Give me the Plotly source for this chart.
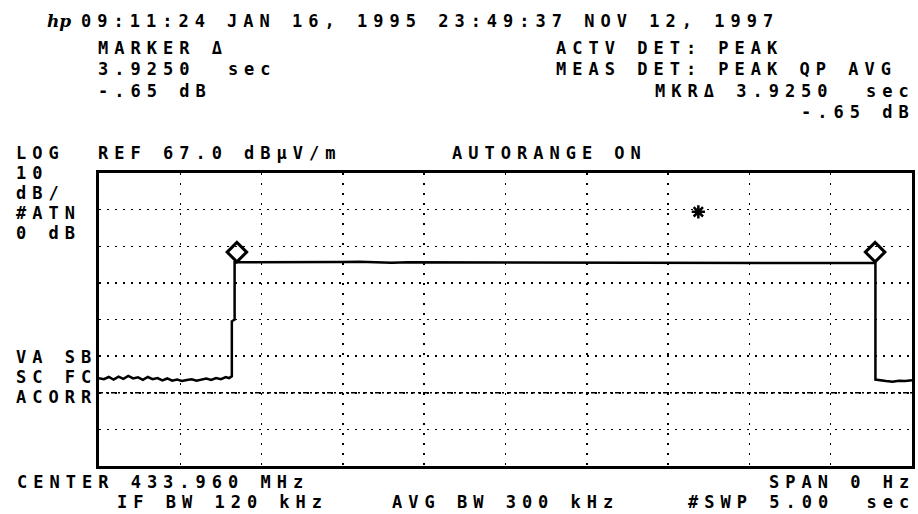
import plotly.graph_objects as go

# ---------------- data ----------------
sweep_time_s = 5.0
ref_level = 67.0
db_per_div = 10
n_vdiv = 8
n_hdiv = 10
display_line_level = 7.0

trace_time = [
    0.00, 0.03, 0.06, 0.09, 0.12, 0.15, 0.18, 0.21, 0.24, 0.27,
    0.30, 0.33, 0.36, 0.39, 0.42, 0.45, 0.48, 0.51, 0.54, 0.57,
    0.60, 0.63, 0.66, 0.69, 0.72, 0.75, 0.78, 0.80, 0.817,
    0.817, 0.834, 0.834,
    0.90, 1.00, 1.10, 1.20, 1.30, 1.40, 1.50, 1.60, 1.70, 1.80,
    1.90, 2.00, 2.10, 2.20, 2.30, 2.40, 2.50, 2.60, 2.70, 2.80,
    2.90, 3.00, 3.10, 3.20, 3.30, 3.40, 3.50, 3.60, 3.70, 3.80,
    3.90, 4.00, 4.10, 4.20, 4.30, 4.40, 4.50, 4.60, 4.70, 4.775,
    4.775, 4.80, 4.84, 4.88, 4.92, 4.96, 5.00,
]
trace_level = [
    11.0, 10.7, 11.3, 10.6, 11.4, 10.8, 11.6, 10.9, 11.2, 10.5,
    11.3, 10.7, 11.0, 10.4, 10.9, 10.3, 10.6, 10.2, 10.5, 10.7,
    10.3, 10.6, 10.9, 10.5, 11.0, 10.7, 11.3, 11.0, 11.5,
    26.5, 27.0, 42.6,
    42.6, 42.6, 42.7, 42.5, 42.6, 42.6, 42.7, 42.8, 42.6, 42.5,
    42.6, 42.6, 42.5, 42.4, 42.5, 42.6, 42.4, 42.5, 42.6, 42.4,
    42.5, 42.5, 42.6, 42.5, 42.6, 42.5, 42.5, 42.6, 42.5, 42.4,
    42.4, 42.4, 42.4, 42.5, 42.4, 42.4, 42.4, 42.4, 42.4, 42.4,
    10.6, 10.4, 10.2, 10.0, 10.3, 10.2, 10.4,
]

marker_time = [0.848, 4.773]
marker_level = [45.4, 45.4]
star_time = [3.686]
star_level = [56.4]

header_line = "09:11:24 JAN 16, 1995 23:49:37 NOV 12, 1997"
marker_lines = ["MARKER Δ", "3.9250  sec", "-.65 dB"]
det_lines = ["ACTV DET: PEAK", "MEAS DET: PEAK QP AVG"]
mkr_lines = ["MKRΔ 3.9250  sec", "-.65 dB"]
ref_text = f"REF {ref_level:.1f} dBµV/m"
autorange_text = "AUTORANGE ON"
left_top_labels = ["LOG", "10", "dB/", "#ATN", "0 dB"]
left_mid_labels = ["VA SB", "SC FC", "ACORR"]
center_text = "CENTER 433.960 MHz"
ifbw_text = "IF BW 120 kHz"
avgbw_text = "AVG BW 300 kHz"
span_text = "SPAN 0 Hz"
swp_text = "#SWP 5.00  sec"

# ---------------- layout geometry (window pixels) ----------------
W, H = 918, 514
L, R, T, B = 98.5, 915.0, 172.5, 466.0

fig = go.Figure()

fig.add_trace(go.Scatter(
    x=[0, sweep_time_s], y=[display_line_level, display_line_level],
    mode="lines", line=dict(color="black", width=1.6, dash="4px,3px,2px,3px"),
    hoverinfo="skip", showlegend=False))

fig.add_trace(go.Scatter(
    x=trace_time, y=trace_level, mode="lines",
    line=dict(color="black", width=2.5), showlegend=False))

fig.add_trace(go.Scatter(
    x=marker_time, y=marker_level, mode="markers",
    marker=dict(symbol="diamond-open", size=15, color="black",
                line=dict(color="black", width=3)),
    showlegend=False))

fig.add_trace(go.Scatter(
    x=star_time, y=star_level, mode="markers",
    marker=dict(symbol="asterisk-open", size=11, color="black",
                line=dict(color="black", width=2.5)),
    showlegend=False))

FONT = dict(family="DejaVu Sans Mono", size=17, color="black", weight="bold")
TRACK = 6.0   # extra letter spacing to match the analyzer's wide character pitch


def spaced(s):
    return f'<span style="letter-spacing:{TRACK}px">{s[:-1]}</span>{s[-1]}'


def add_text(s, px, py, anchor="left"):
    fig.add_annotation(
        text=spaced(s), x=(px - L) / (R - L), y=(B - py) / (B - T),
        xref="paper", yref="paper", xanchor=anchor, yanchor="middle",
        align=anchor, showarrow=False, font=FONT, borderpad=0)


# hp logo
fig.add_annotation(text="<b><i>hp</i></b>", x=(58 - L) / (R - L), y=(B - 20) / (B - T),
                   xref="paper", yref="paper", xanchor="center", yanchor="middle",
                   showarrow=False,
                   font=dict(family="DejaVu Serif", size=17, color="black"))

add_text(header_line, 79, 20)
for i, s in enumerate(marker_lines):
    add_text(s, 96, 47 + i * 21.5)
for i, s in enumerate(det_lines):
    add_text(s, 556, 47 + i * 21.5)
for i, s in enumerate(mkr_lines):
    add_text(s, 913, 90 + i * 21.5, anchor="right")
add_text(left_top_labels[0], 14, 152)
add_text(ref_text, 96, 152)
add_text(autorange_text, 452, 152)
for i, s in enumerate(left_top_labels[1:]):
    add_text(s, 14, 173 + i * 20)
for i, s in enumerate(left_mid_labels):
    add_text(s, 14, 357 + i * 20)
add_text(center_text, 15, 482)
add_text(ifbw_text, 116, 502)
add_text(avgbw_text, 392, 502)
add_text(span_text, 913, 482, anchor="right")
add_text(swp_text, 913, 502, anchor="right")

fig.update_xaxes(
    range=[0, sweep_time_s], dtick=sweep_time_s / n_hdiv, tick0=0,
    showticklabels=False, ticks="", zeroline=False,
    showgrid=True, gridcolor="black", gridwidth=1.5, griddash="2px,8px",
    showline=True, mirror=True, linecolor="black", linewidth=3)
fig.update_yaxes(
    range=[ref_level - db_per_div * n_vdiv, ref_level], dtick=db_per_div, tick0=ref_level,
    showticklabels=False, ticks="", zeroline=False,
    showgrid=True, gridcolor="black", gridwidth=1.5, griddash="2px,6px",
    showline=True, mirror=True, linecolor="black", linewidth=3)

fig.update_layout(
    width=W, height=H,
    margin=dict(l=L, r=W - R, t=T, b=H - B, pad=0),
    paper_bgcolor="white", plot_bgcolor="white",
    showlegend=False, hovermode=False)

fig.write_html(
    "out.html",
    config={"displayModeBar": False, "staticPlot": True},
    post_script="document.body.style.margin='0';"
                "document.documentElement.style.overflow='hidden';"
                "document.body.style.overflow='hidden';")
